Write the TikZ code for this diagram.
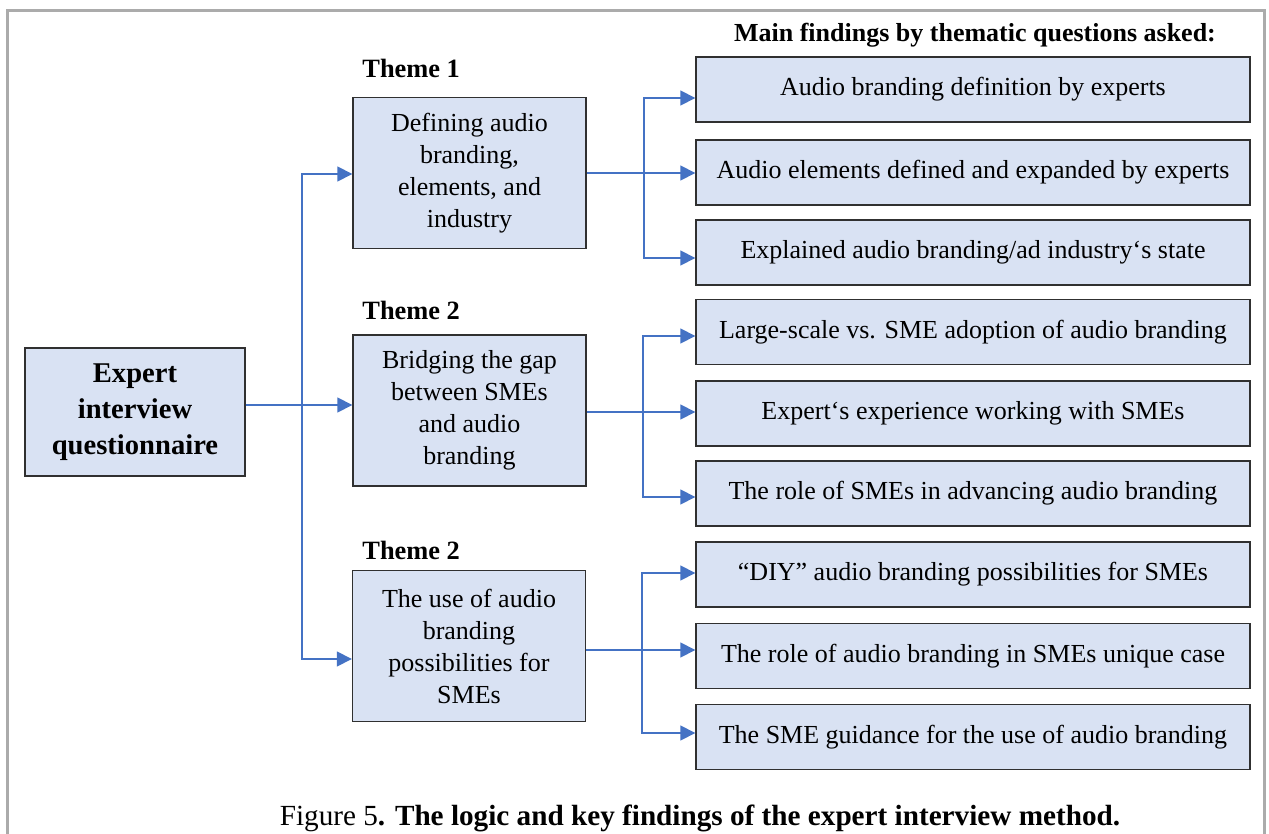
\documentclass[tikz,border=0pt]{standalone}
\usepackage{fontspec}
\setmainfont{Liberation Serif}
\usetikzlibrary{arrows.meta,calc}
\definecolor{boxfill}{HTML}{D9E2F3}
\definecolor{boxline}{HTML}{303030}
\definecolor{arrblue}{HTML}{4472C4}
\definecolor{framegray}{HTML}{ABABAB}
\tikzset{
  themebox/.style={draw=boxline, line width=0.7pt, fill=boxfill, minimum width=116.5pt, minimum height=75.5pt, align=center, inner sep=0pt, font=\fontsize{13}{16}\selectfont},
  findbox/.style={draw=boxline, line width=0.7pt, fill=boxfill, minimum width=277pt, minimum height=32.5pt, align=center, inner sep=0pt, font=\fontsize{13}{15}\selectfont},
  expbox/.style={draw=boxline, line width=0.7pt, fill=boxfill, minimum width=110pt, minimum height=64pt, align=center, inner sep=0pt, font=\fontsize{14.3}{18}\selectfont\bfseries},
  themelabel/.style={anchor=base west, inner sep=0pt, font=\fontsize{13.2}{15}\selectfont\bfseries},
  conn/.style={draw=arrblue, line width=0.8pt},
  arr/.style={conn, -{Triangle[length=7.5pt,width=7.5pt]}},
}
\begin{document}
\begin{tikzpicture}[x=0.5pt,y=-0.5pt]
\clip (0,0) rectangle (1269,834);
\useasboundingbox (0,0) rectangle (1269,834);
\fill[white] (0,0) rectangle (1269,834);
\draw[framegray, line width=1.2pt] (7.5,10.5) rectangle (1264.5,860);

% header
\node[anchor=base, inner sep=0pt, font=\fontsize{13}{15}\selectfont\bfseries] (hdr) at (975,42) {Main findings by thematic questions asked:};

% expert box
\node[expbox] (exp) at (135,412) {Expert\\interview\\questionnaire};

% theme boxes
\node[themebox] (t1) at (469.5,173) {Defining audio\\branding,\\elements, and\\industry};
\node[themebox] (t2) at (469.5,410.5) {Bridging the gap\\between SMEs\\and audio\\branding};
\node[themebox] (t3) at (469,646) {The use of audio\\branding\\possibilities for\\SMEs};

\node[themelabel] (l1) at (362,78) {Theme 1};
\node[themelabel] (l2) at (362,320) {Theme 2};
\node[themelabel] (l3) at (362,559) {Theme 2};

% findings
\node[findbox] (f1) at (973,89.5) {\raisebox{3pt}{Audio branding definition by experts}};
\node[findbox] (f2) at (973,172.5) {\raisebox{3pt}{Audio elements defined and expanded by experts}};
\node[findbox] (f3) at (973,252.5) {\raisebox{3pt}{Explained audio branding/ad industry‘s state}};
\node[findbox] (f4) at (973,332) {\raisebox{3pt}{Large-scale vs. SME adoption of audio branding}};
\node[findbox] (f5) at (973,413.5) {\raisebox{3pt}{Expert‘s experience working with SMEs}};
\node[findbox] (f6) at (973,493.5) {\raisebox{3pt}{The role of SMEs in advancing audio branding}};
\node[findbox] (f7) at (973,574.5) {\raisebox{3pt}{“DIY” audio branding possibilities for SMEs}};
\node[findbox] (f8) at (973,656) {\raisebox{3pt}{The role of audio branding in SMEs unique case}};
\node[findbox] (f9) at (973,737) {\raisebox{3pt}{The SME guidance for the use of audio branding}};

% trunk from expert
\coordinate (e0) at ([yshift=3.5pt]exp.east);
\coordinate (tr) at (302,0 |- e0);
\draw[conn] (e0) -- (tr);
\draw[arr] (tr) |- ([yshift=-0.5pt]t1.west);
\draw[arr] (tr) -- (t2.west |- tr);
\draw[arr] (tr) |- ([yshift=-6.5pt]t3.west);

% branches
\coordinate (b1) at (644,0 |- t1.east);
\draw[conn] (t1.east) -- (b1);
\draw[arr] (b1) |- ([yshift=-4.25pt]f1.west);
\draw[arr] (b1) -- (f2.west |- b1);
\draw[arr] (b1) |- ([yshift=-2.75pt]f3.west);

\coordinate (t2e) at ([yshift=-0.75pt]t2.east);
\coordinate (b2) at (643,0 |- t2e);
\draw[conn] (t2e) -- (b2);
\draw[arr] (b2) |- ([yshift=-2pt]f4.west);
\draw[arr] (b2) -- (f5.west |- b2);
\draw[arr] (b2) |- ([yshift=-1.75pt]f6.west);

\coordinate (t3e) at ([yshift=-2pt]t3.east);
\coordinate (b3) at (642,0 |- t3e);
\draw[conn] (t3e) -- (b3);
\draw[arr] (b3) |- ([yshift=0.75pt]f7.west);
\draw[arr] (b3) -- (f8.west |- b3);
\draw[arr] (b3) |- ([yshift=2pt]f9.west);

% caption
\node[anchor=base, inner sep=0pt, font=\fontsize{14.6}{18}\selectfont] (cap) at (700,825) {Figure 5\textbf{. The logic and key findings of the expert interview method.}};
\end{tikzpicture}
\end{document}
